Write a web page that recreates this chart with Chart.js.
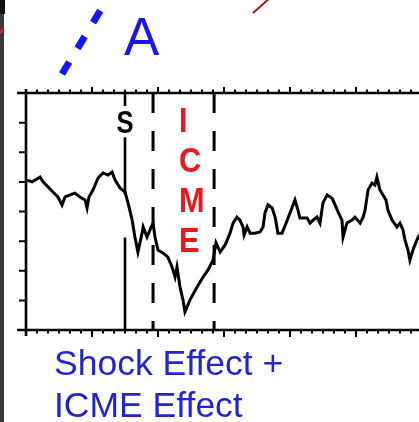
<!DOCTYPE html>
<html>
<head>
<meta charset="utf-8">
<script src="https://cdn.jsdelivr.net/npm/chart.js@4.4.1/dist/chart.umd.min.js"></script>
<style>
  html, body { margin: 0; padding: 0; background: #fff; overflow: hidden; }
  #wrap { position: relative; width: 419px; height: 422px; overflow: hidden; }
  canvas { display: block; }
</style>
</head>
<body>
<div id="wrap"><canvas id="fd" width="422" height="422"></canvas></div>
<script>
// Time in hours from the left edge of the panel
const hours = [
    0.4, 2.2, 4.0, 5.1, 6.2, 8.0, 9.8, 11.6, 13.1, 14.2, 16.0, 17.8, 19.6, 21.5, 22.2, 22.9,
    24.4, 26.2, 28.0, 29.8, 31.3, 32.4, 34.2, 36.0, 37.1, 38.6, 39.6, 40.7, 42.2, 42.6, 44.0,
    45.1, 46.2, 46.9, 48.0, 49.8, 51.6, 53.1, 54.2, 54.9, 56.0, 57.1, 57.8, 59.6, 62.2, 64.4,
    66.2, 68.0, 69.1, 70.6, 72.4, 74.2, 75.3, 76.7, 77.8, 78.9, 79.3, 80.4, 81.5, 83.3, 85.1,
    86.2, 86.9, 88.0, 89.5, 90.6, 91.6, 93.1, 94.6, 96.0, 97.8, 98.9, 99.6, 102.2, 103.3,
    104.4, 105.8, 106.9, 108.0, 109.5, 111.3, 112.4, 113.5, 114.9, 115.3, 116.7, 118.6, 119.6,
    121.5, 122.6, 123.3, 124.4, 125.8, 126.9, 127.6, 128.7, 129.8, 130.9, 131.6, 133.1, 134.9,
    136.0, 137.1, 137.8, 138.9, 139.6, 140.7, 142.6, 144.0
];
// Relative intensity (axis units, 0 at the top of the box)
const intensity = [
    -2.94, -3.00, -2.90, -2.84, -3.00, -3.17, -3.34, -3.51, -3.78, -3.51, -3.44, -3.38, -3.51, -3.61, -3.88, -3.51,
    -3.27, -2.87, -2.70, -2.77, -2.67, -2.94, -3.21, -3.34, -3.71, -4.29, -4.86, -5.37, -4.73, -4.52, -4.86,
    -4.62, -4.39, -4.86, -5.30, -5.40, -5.54, -5.87, -6.21, -5.87, -6.55, -6.99, -7.39, -6.99, -6.55, -6.21,
    -5.97, -5.64, -5.06, -5.37, -5.13, -4.73, -4.39, -4.19, -4.29, -4.52, -4.79, -4.52, -4.73, -4.73, -4.69,
    -4.52, -4.05, -3.78, -3.88, -4.19, -4.73, -4.73, -4.39, -4.05, -3.61, -3.95, -4.22, -4.22, -4.39,
    -4.29, -4.19, -4.39, -3.71, -3.44, -3.55, -3.78, -4.02, -4.29, -4.86, -4.39, -4.29, -4.19,
    -4.39, -4.19, -3.95, -3.27, -3.04, -3.11, -2.84, -3.27, -3.44, -3.61, -3.95, -4.29, -4.52,
    -4.39, -4.62, -4.96, -5.30, -5.64, -5.30, -4.86, -4.70
];

// Event times (hours)
const shockHour = 36.0;
const icmeStart = 46.2;
const icmeEnd = 68.4;
// Shock line is broken around its label and where the curve crosses it
const shockSegments = [[0, -0.44], [-1.49, -3.44], [-4.88, -8]];

// Axis ranges and tick steps
const xMin = 0, xMax = 144, minorStep = 4, majorStep = 24;
const yMin = -8, yMax = 0, yStep = 1;

const shockData = [];
shockSegments.forEach(seg => {
    shockData.push({ x: shockHour, y: seg[0] }, { x: shockHour, y: seg[1] }, { x: shockHour, y: null });
});

// Frame, ticks and annotations
Chart.register({
    id: 'panelDecor',
    afterDatasetsDraw(chart) {
        const ctx = chart.ctx;
        const xs = chart.scales.x, ys = chart.scales.y;
        const left = xs.getPixelForValue(xMin);
        const right = chart.width;
        const top = ys.getPixelForValue(yMax);
        const bottom = ys.getPixelForValue(yMin);

        ctx.save();
        ctx.strokeStyle = '#000';
        ctx.lineCap = 'butt';

        // box lines
        ctx.lineWidth = 2.6;
        ctx.beginPath();
        ctx.moveTo(left - 9, top); ctx.lineTo(right, top);
        ctx.moveTo(left - 9, bottom); ctx.lineTo(right, bottom);
        ctx.moveTo(left, top - 4); ctx.lineTo(left, bottom + 6);
        ctx.stroke();

        // top and bottom ticks
        ctx.lineWidth = 2;
        ctx.beginPath();
        for (let h = xMin + minorStep; h < xMax; h += minorStep) {
            const px = xs.getPixelForValue(h);
            const major = h % majorStep === 0;
            ctx.moveTo(px, top); ctx.lineTo(px, top - (major ? 6 : 3.5));
            ctx.moveTo(px, bottom); ctx.lineTo(px, bottom + (major ? 7 : 3.5));
        }
        // left ticks
        for (let v = yMax - yStep; v > yMin; v -= yStep) {
            const py = ys.getPixelForValue(v);
            ctx.moveTo(left, py); ctx.lineTo(left - 7, py);
        }
        ctx.stroke();

        // S label
        const sx = xs.getPixelForValue(shockHour);
        ctx.fillStyle = '#000';
        ctx.textAlign = 'center';
        ctx.textBaseline = 'alphabetic';
        ctx.save();
        ctx.translate(sx, 133);
        ctx.scale(0.8, 1);
        ctx.font = 'bold 32px "Liberation Sans", Arial, sans-serif';
        ctx.fillText('S', 0, 0);
        ctx.restore();

        // ICME letters
        ctx.fillStyle = '#e8191f';
        ctx.textAlign = 'left';
        const letters = ['I', 'C', 'M', 'E'];
        const baselines = [132, 172, 212, 252];
        letters.forEach((ch, i) => {
            ctx.save();
            ctx.translate(179, baselines[i]);
            ctx.scale(0.88, 1);
            ctx.font = 'bold 35px "Liberation Sans", Arial, sans-serif';
            ctx.fillText(ch, 0, 0);
            ctx.restore();
        });
        ctx.restore();
    },
    afterDraw(chart) {
        const ctx = chart.ctx;
        ctx.save();

        // strip of the neighbouring panel at the left edge
        ctx.fillStyle = '#3a3a3a';
        ctx.fillRect(0, 0, 4, 422);
        ctx.fillStyle = '#111';
        ctx.fillRect(0, 0, 5, 14);
        ctx.fillStyle = '#e02020';
        ctx.fillRect(0, 29, 3, 4);

        // blue dashed arrow
        ctx.strokeStyle = '#1616f5';
        ctx.lineWidth = 7;
        ctx.setLineDash([14, 16]);
        ctx.beginPath();
        ctx.moveTo(62, 74);
        ctx.lineTo(111, -7);
        ctx.stroke();
        ctx.setLineDash([]);

        // thin red line
        ctx.strokeStyle = '#a3161e';
        ctx.lineWidth = 2;
        ctx.beginPath();
        ctx.moveTo(253, 13);
        ctx.lineTo(271, -3);
        ctx.stroke();

        // panel letter
        ctx.fillStyle = '#1616f5';
        ctx.textAlign = 'left';
        ctx.textBaseline = 'alphabetic';
        ctx.font = '53px "Liberation Sans", Arial, sans-serif';
        ctx.fillText('A', 124, 55);

        // caption
        ctx.fillStyle = '#2323cf';
        ctx.font = '35.5px "Liberation Sans", Arial, sans-serif';
        ctx.fillText('Shock Effect +', 54, 375);
        ctx.fillText('ICME Effect', 54, 417);
        ctx.restore();
    }
});

new Chart(document.getElementById('fd'), {
    type: 'line',
    data: {
        datasets: [
            {
                data: hours.map((h, i) => ({ x: h, y: intensity[i] })),
                borderColor: '#000',
                borderWidth: 3,
                pointRadius: 0,
                tension: 0
            },
            {
                data: shockData,
                borderColor: '#000',
                borderWidth: 2.6,
                pointRadius: 0,
                spanGaps: false
            },
            {
                data: [{ x: icmeStart, y: yMax }, { x: icmeStart, y: yMin }],
                borderColor: '#000',
                borderWidth: 3,
                borderDash: [20, 18],
                pointRadius: 0
            },
            {
                data: [{ x: icmeEnd, y: yMax }, { x: icmeEnd, y: yMin }],
                borderColor: '#000',
                borderWidth: 3,
                borderDash: [20, 18],
                pointRadius: 0
            }
        ]
    },
    options: {
        responsive: false,
        animation: false,
        layout: { padding: { left: 26, top: 93, right: 0, bottom: 92 } },
        scales: {
            x: { type: 'linear', min: xMin, max: xMax, display: false },
            y: { min: yMin, max: yMax, display: false }
        },
        plugins: {
            legend: { display: false },
            tooltip: { enabled: false }
        }
    }
});
</script>
</body>
</html>
